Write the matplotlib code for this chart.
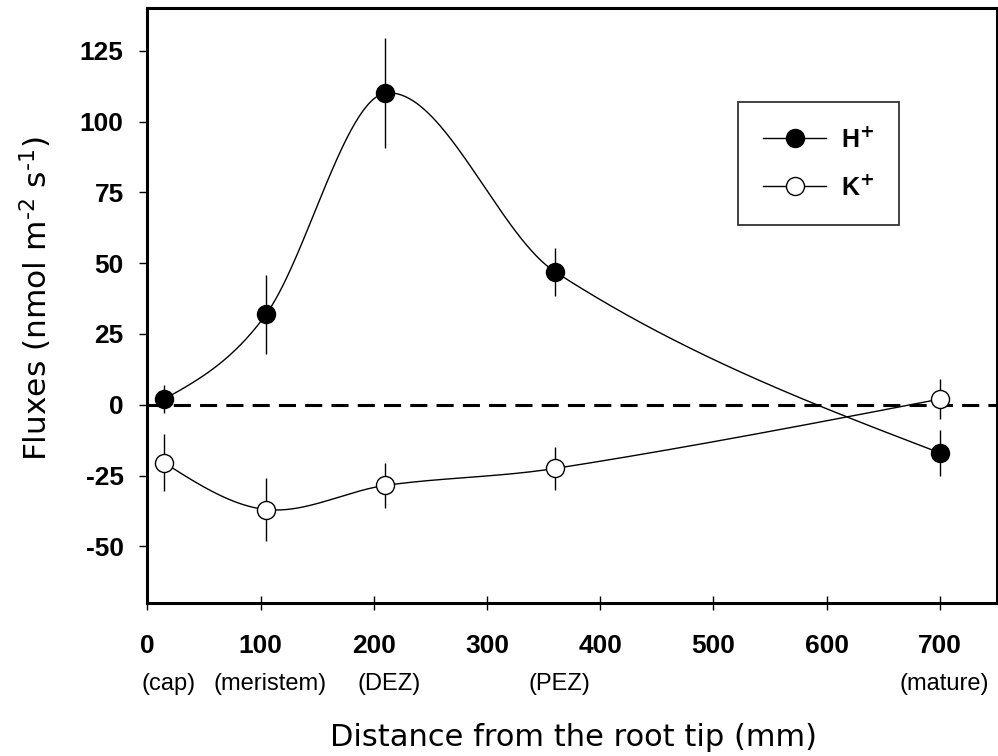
import numpy as np
import matplotlib
matplotlib.use('Agg')
import matplotlib.pyplot as plt
from matplotlib.lines import Line2D

plt.rcParams['axes.unicode_minus'] = False

# distance from root tip (x) and fluxes with SE
distance = [15, 105, 210, 360, 700]
zone_labels = ['(cap)', '(meristem)', '(DEZ)', '(PEZ)', '(mature)']
h_flux = [2, 32, 110, 47, -17]
h_err = [5, 14, 19.5, 8.5, 8]
k_flux = [-20.5, -37, -28.5, -22.5, 2]
k_err = [10, 11, 8, 7.5, 7]


def smooth_curve(x, y, n=400):
    # catmull-rom style cubic through the points, natural ends
    x = np.asarray(x, float)
    y = np.asarray(y, float)
    h = np.diff(x)
    d = np.diff(y) / h
    m = np.zeros(len(x))
    m[1:-1] = (y[2:] - y[:-2]) / (x[2:] - x[:-2])
    m[0] = (3 * d[0] - m[1]) / 2
    m[-1] = (3 * d[-1] - m[-2]) / 2
    xs = np.linspace(x[0], x[-1], n)
    idx = np.clip(np.searchsorted(x, xs) - 1, 0, len(x) - 2)
    hh = h[idx]
    t = (xs - x[idx]) / hh
    ys = ((2 * t ** 3 - 3 * t ** 2 + 1) * y[idx] + (t ** 3 - 2 * t ** 2 + t) * hh * m[idx]
          + (-2 * t ** 3 + 3 * t ** 2) * y[idx + 1] + (t ** 3 - t ** 2) * hh * m[idx + 1])
    return xs, ys


fig = plt.figure(figsize=(9.98, 7.56), dpi=100)
ax = fig.add_axes([0.1476, 0.2024, 0.8509, 0.7866])

ax.axhline(0, color='black', lw=2.2, ls=(0, (5.6, 3)), zorder=1)

xs, ys = smooth_curve(distance, h_flux)
ax.plot(xs, ys, color='black', lw=1.0, zorder=2)
xs, ys = smooth_curve(distance, k_flux)
ax.plot(xs, ys, color='black', lw=1.0, zorder=2)

ax.errorbar(distance, h_flux, yerr=h_err, fmt='none', ecolor='black', elinewidth=1.0, capsize=0, zorder=3)
ax.errorbar(distance, k_flux, yerr=k_err, fmt='none', ecolor='black', elinewidth=1.0, capsize=0, zorder=3)
ax.plot(distance, h_flux, 'o', ms=13, mfc='black', mec='black', mew=1.0, zorder=4)
ax.plot(distance, k_flux, 'o', ms=13, mfc='white', mec='black', mew=1.0, zorder=4)

ax.set_xlim(0, 750)
ax.set_ylim(-70, 140)
ax.set_xticks(range(0, 701, 100))
ax.set_yticks(range(-50, 126, 25))

for s in ax.spines.values():
    s.set_linewidth(2.2)

tick_font = {'family': 'Liberation Sans', 'weight': 'bold', 'size': 19}
ax.tick_params(axis='x', direction='inout', length=10, width=1.0, pad=17)
ax.tick_params(axis='y', direction='out', length=6, width=1.0, pad=11)
for lab in ax.get_xticklabels() + ax.get_yticklabels():
    lab.set_fontproperties(tick_font)

# zone names under the tick labels
for x, lab in zip(distance, zone_labels):
    ax.annotate(lab, xy=(x, -0.1364), xycoords=ax.get_xaxis_transform(),
                xytext=(3, 0), textcoords='offset points', ha='center', va='center',
                family='Liberation Sans', fontsize=17)

fig.text(574 / 998, 1 - 738 / 756, 'Distance from the root tip (mm)', ha='center', va='center',
         family='DejaVu Sans', fontsize=22)
fig.text(36 / 998, 1 - 299 / 756, r'Fluxes (nmol m$^{\text{-2}}$ s$^{\text{-1}}$)',
         rotation=90, ha='center', va='center', family='DejaVu Sans', fontsize=22.5)

handles = [
    Line2D([], [], color='black', lw=1.0, marker='o', ms=13, mfc='black', mec='black'),
    Line2D([], [], color='black', lw=1.0, marker='o', ms=13, mfc='white', mec='black'),
]
leg = ax.legend(handles, [r'H$^{\mathbf{+}}$', r'K$^{\mathbf{+}}$'], loc='center',
                bbox_to_anchor=(0.7906, 0.7391), frameon=True, fancybox=False,
                prop={'family': 'Liberation Sans', 'weight': 'bold', 'size': 18},
                handlelength=2.5, handletextpad=0.6, labelspacing=0.9, borderpad=1.0,
                borderaxespad=0)
leg.get_frame().set_edgecolor('black')
leg.get_frame().set_linewidth(1.3)

fig.savefig('out.png', dpi=100)
